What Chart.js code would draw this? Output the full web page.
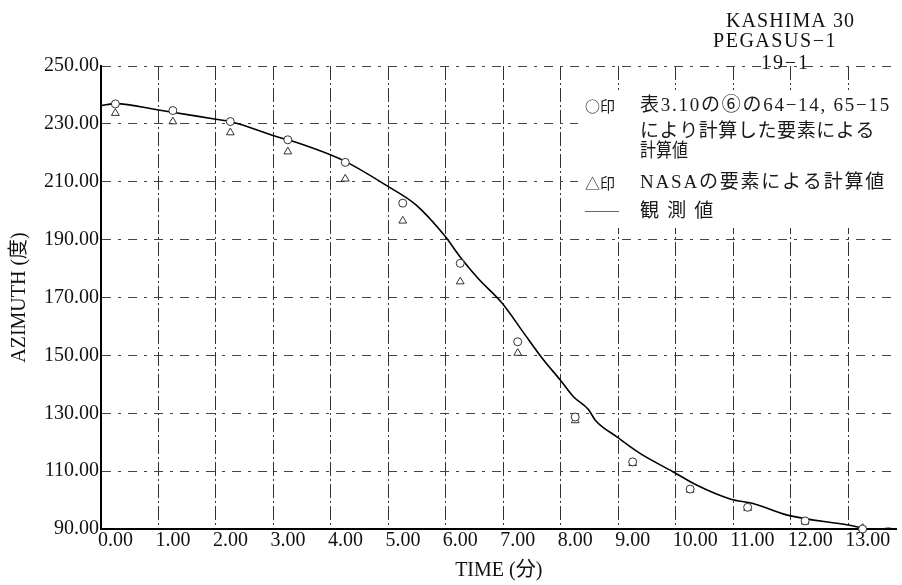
<!DOCTYPE html>
<html>
<head>
<meta charset="utf-8">
<script src="https://cdn.jsdelivr.net/npm/chart.js@4.4.1/dist/chart.umd.min.js"></script>
<style>
  html, body { margin: 0; padding: 0; background: #fff; }
</style>
</head>
<body>
<canvas id="azChart" width="902" height="585"></canvas>
<script>
// observed azimuth (solid curve)
const obsTime = [0, 0.25, 1.0, 2.0, 2.25, 3.05, 3.35, 4.22, 5.0, 5.48, 5.98, 6.26, 6.55, 6.98, 7.36, 7.70, 7.99, 8.22, 8.48, 8.6, 8.97, 9.37, 9.95, 10.36, 10.96, 11.33, 11.94, 13.0, 13.47, 13.7, 13.84];
const obsAzimuth = [236.3, 237.0, 234.8, 231.6, 230.8, 225.6, 223.9, 217.3, 208.3, 202.0, 191.3, 183.7, 176.8, 168.0, 157.6, 148.4, 141.5, 135.7, 131.3, 127.6, 121.9, 116.2, 109.8, 105.2, 100.3, 98.9, 94.8, 91.4, 89.7, 90.2, 89.9];

// computed points, one per minute
const markTime = [0.25, 1.25, 2.25, 3.25, 4.25, 5.25, 6.25, 7.25, 8.25, 9.25, 10.25, 11.25, 12.25, 13.25];
const circleAzimuth = [236.9, 234.6, 230.8, 224.5, 216.7, 202.6, 181.8, 154.7, 128.7, 113.2, 103.8, 97.5, 92.8, 90.0];
const triangleAzimuth = [233.7, 230.8, 227.0, 220.4, 211.0, 196.5, 175.5, 150.8, 127.5, 112.7, 103.5, 97.2, 92.5, 90.3];

const xTickValues = [0, 1, 2, 3, 4, 5, 6, 7, 8, 9, 10, 11, 12, 13];
const yTickValues = [90, 110, 130, 150, 170, 190, 210, 230, 250];

const headerLines = ['KASHIMA 30', 'PEGASUS\u22121', '19\u22121'];
const legendMarks = ['\u25CB\u5370', '', '', '\u25B3\u5370', '\u2500\u2500'];
const legendTexts = ['表3.10の⑥の64\u221214, 65\u221215', 'により計算した要素による', '計算値', 'NASAの要素による計算値', '観 測 値'];

const toPoints = (xs, ys) => xs.map((x, i) => ({ x: x, y: ys[i] }));

const SERIF = '"Liberation Serif", "DejaVu Serif", "Noto Sans CJK JP", serif';

// spread a line of text out to a given width (spacing capped)
function fillSpread(ctx, text, x, y, width, maxSpace) {
  ctx.letterSpacing = '0px';
  const w = ctx.measureText(text).width;
  const n = Array.from(text).length;
  const ls = w < width ? Math.min((width - w) / n, maxSpace) : 0;
  ctx.letterSpacing = ls.toFixed(2) + 'px';
  ctx.fillText(text, x, y, width + ls);
  ctx.letterSpacing = '0px';
}

// header block and the boxed legend at the upper right
const annotate = {
  id: 'annotate',
  afterDraw(chart) {
    const ctx = chart.ctx;
    ctx.save();
    ctx.fillStyle = '#111';
    ctx.textBaseline = 'middle';

    ctx.font = '20px ' + SERIF;
    ctx.textAlign = 'left';
    const hx = [726, 713, 761];
    const hw = [129, 124, 49];
    const hy = [22, 42, 64];
    headerLines.forEach((t, i) => fillSpread(ctx, t, hx[i], hy[i], hw[i], 2));

    ctx.fillStyle = '#fff';
    ctx.fillRect(578, 90, 324, 138);

    ctx.fillStyle = '#1a1a1a';
    const ly = [106, 132, 152, 183, 212];
    const lw = [251, 235, 48, 246, 75];
    legendMarks.forEach((m, i) => {
      if (!m) return;
      ctx.font = (i === 4 ? '17px' : '15px') + ' "Noto Sans CJK JP", sans-serif';
      fillSpread(ctx, m, 585, ly[i], i === 4 ? 34 : 30, 0);
    });
    ctx.font = '19px ' + SERIF;
    legendTexts.forEach((t, i) => fillSpread(ctx, t, 640, ly[i], lw[i], 2.5));
    ctx.restore();
  }
};

new Chart(document.getElementById('azChart'), {
  type: 'scatter',
  data: {
    datasets: [
      {
        label: 'circle',
        data: toPoints(markTime, circleAzimuth),
        pointStyle: 'circle',
        pointRadius: 4,
        pointBorderWidth: 1,
        pointBorderColor: '#333',
        pointBackgroundColor: '#fff',
        clip: false
      },
      {
        label: 'triangle',
        data: toPoints(markTime, triangleAzimuth),
        pointStyle: 'triangle',
        pointRadius: 4.5,
        pointBorderWidth: 1,
        pointBorderColor: '#333',
        pointBackgroundColor: 'rgba(0,0,0,0)',
        clip: false
      },
      {
        label: 'observed',
        type: 'line',
        data: toPoints(obsTime, obsAzimuth),
        borderColor: '#000',
        borderWidth: 1.6,
        pointRadius: 0,
        cubicInterpolationMode: 'monotone',
        fill: false
      }
    ]
  },
  plugins: [annotate],
  options: {
    responsive: false,
    animation: false,
    layout: { padding: { top: 66, right: 0, bottom: 0, left: 0 } },
    plugins: {
      legend: { display: false },
      tooltip: { enabled: false }
    },
    scales: {
      x: {
        type: 'linear',
        min: 0,
        max: 13.84,
        afterBuildTicks: (scale) => { scale.ticks = xTickValues.map(v => ({ value: v })); },
        afterFit: (scale) => { scale.height = 56; scale.paddingRight = 0; scale.paddingLeft = 0; },
        grid: { color: '#333', lineWidth: 1, drawTicks: false },
        border: { display: true, color: '#000', width: 2, dash: [14, 3, 2, 3] },
        ticks: {
          align: 'start',
          labelOffset: -3,
          padding: 0,
          color: '#111',
          font: { family: SERIF, size: 20 },
          callback: (v) => Number(v).toFixed(2)
        },
        title: {
          display: true,
          text: 'TIME (分)',
          color: '#111',
          font: { family: SERIF, size: 20 },
          padding: { top: 0, bottom: 2 }
        }
      },
      y: {
        min: 90,
        max: 250,
        afterBuildTicks: (scale) => { scale.ticks = yTickValues.map(v => ({ value: v })); },
        afterFit: (scale) => { scale.width = 101; },
        grid: { color: '#444', lineWidth: 1, drawTicks: false },
        border: { display: true, color: '#000', width: 2, dash: [9, 7, 3, 7] },
        ticks: {
          padding: 2,
          color: '#111',
          font: { family: SERIF, size: 20 },
          callback: (v) => Number(v).toFixed(2)
        },
        title: {
          display: true,
          text: 'AZIMUTH (度)',
          color: '#111',
          font: { family: SERIF, size: 20 },
          padding: { top: 8, bottom: 0 }
        }
      }
    }
  }
});
</script>
</body>
</html>
